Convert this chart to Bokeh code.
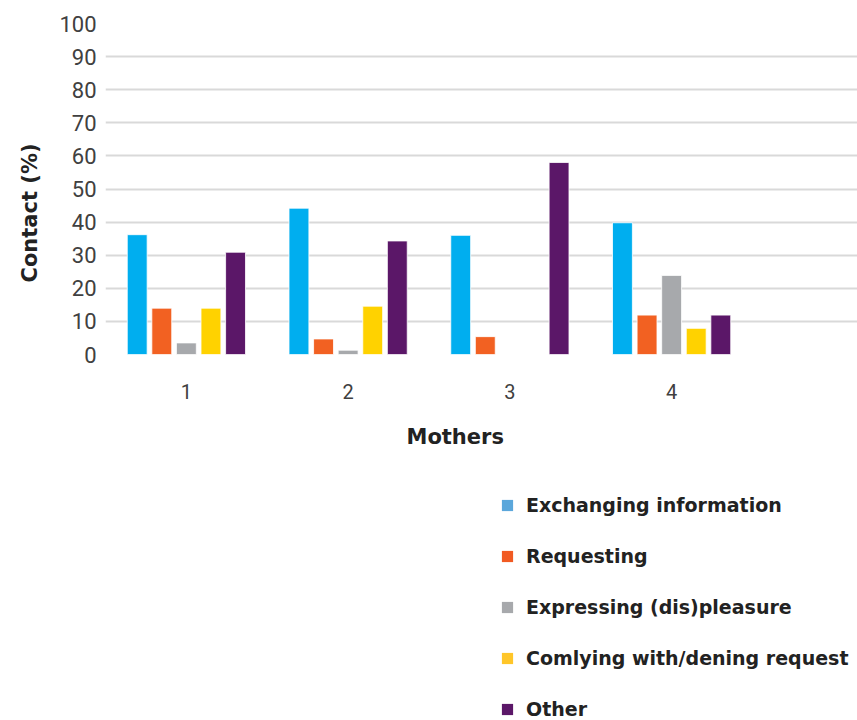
from bokeh.plotting import figure
from bokeh.models import ColumnDataSource, Range1d, Legend, LegendItem, FixedTicker, Title
from bokeh.layouts import column
from bokeh.transform import dodge
from bokeh.embed import file_html
from bokeh.resources import INLINE

mothers = ["1", "2", "3", "4"]
exchanging = [36.2, 44.2, 36.0, 39.8]
requesting = [14.0, 4.7, 5.4, 11.9]
expressing = [3.5, 1.3, 0.0, 23.9]
complying = [14.0, 14.6, 0.0, 7.9]
other = [30.9, 34.3, 58.0, 11.9]

series_names = ["Exchanging information", "Requesting", "Expressing (dis)pleasure",
                "Comlying with/dening request", "Other"]
series_keys = ["exchanging", "requesting", "expressing", "complying", "other"]
colors = ["#00AEEF", "#F26122", "#A7A9AC", "#FFD200", "#5B1768"]
legend_colors = ["#5BA7DB", "#F15A22", "#A7A9AC", "#FFC629", "#5B1768"]
y_ticks = [0, 10, 20, 30, 40, 50, 60, 70, 80, 90, 100]
x_title = "Mothers"
y_title = "Contact (%)"

mothers_x = [float(m) for m in mothers]
src = ColumnDataSource(dict(x=mothers_x, exchanging=exchanging, requesting=requesting,
                            expressing=expressing, complying=complying, other=other))

FRAME_W = 752
GROUP_PX = 161.75
x_start = mothers_x[0] - 0.5
x_end = x_start + FRAME_W / GROUP_PX

FONT_T = "Roboto"
FONT_B = "DejaVu Sans"

p = figure(frame_width=FRAME_W, frame_height=331,
           x_range=Range1d(x_start, x_end), y_range=Range1d(0, 100),
           output_backend="svg", toolbar_location=None,
           min_border_left=105, min_border_right=0, min_border_top=23, min_border_bottom=116)
p.outline_line_color = None

offsets = [-0.304, -0.152, 0.0, 0.152, 0.304]
for key, col, off in zip(series_keys, colors, offsets):
    p.vbar(x=dodge("x", off), top=key, width=0.123, source=src,
           fill_color=col, line_color="white", line_width=0.8)

p.xgrid.grid_line_color = None
p.ygrid.grid_line_color = "#d9d9d9"
p.ygrid.grid_line_width = 2
p.ygrid.ticker = y_ticks
p.ygrid.bounds = (x_start, mothers_x[-1] + 0.5)

p.yaxis.ticker = y_ticks
p.yaxis.axis_line_color = None
p.yaxis.major_tick_line_color = None
p.yaxis.minor_tick_line_color = None
p.yaxis.major_label_text_font = FONT_T
p.yaxis.major_label_text_font_size = "22px"
p.yaxis.major_label_text_color = "#404040"
p.yaxis.major_label_standoff = 3

p.xaxis.ticker = FixedTicker(ticks=mothers_x)
p.xaxis.major_label_overrides = {xv: m for xv, m in zip(mothers_x, mothers)}
p.xaxis.axis_line_color = None
p.xaxis.major_tick_line_color = None
p.xaxis.minor_tick_line_color = None
p.xaxis.major_label_text_font = FONT_T
p.xaxis.major_label_text_font_size = "20px"
p.xaxis.major_label_text_color = "#404040"
p.xaxis.major_label_standoff = 23

yt = Title(text=y_title, align="left", offset=72, text_font=FONT_B, text_font_style="bold",
           text_font_size="21px", text_color="#222222", standoff=30)
p.add_layout(yt, "left")
xt = Title(text=x_title, align="left", offset=301, text_font=FONT_B, text_font_style="bold",
           text_font_size="21px", text_color="#222222", standoff=42)
p.add_layout(xt, "below")

# legend panel
lg = figure(width=857, height=250, x_range=Range1d(-1, 0), y_range=Range1d(0, 1),
            x_axis_location=None, y_axis_location=None,
            output_backend="svg", toolbar_location=None,
            min_border_left=105, min_border_right=0, min_border_top=0, min_border_bottom=0)
lg.outline_line_color = None
lg.grid.visible = False
items = []
for key, name, col in zip(series_keys, series_names, legend_colors):
    r = lg.vbar(x="x", top=key, width=0.1, source=src, fill_color=col, line_color=None)
    items.append(LegendItem(label=name, renderers=[r]))
legend = Legend(items=items, location=(395, 0), orientation="vertical",
                glyph_width=14, glyph_height=14, label_standoff=12,
                label_text_font=FONT_B, label_text_font_style="bold",
                label_text_font_size="19px", label_text_color="#222222",
                label_height=22, spacing=29, padding=0, margin=0,
                border_line_color=None, background_fill_alpha=0)
lg.add_layout(legend, "center")

open("out.html", "w").write(file_html(column(p, lg, spacing=0), INLINE))
